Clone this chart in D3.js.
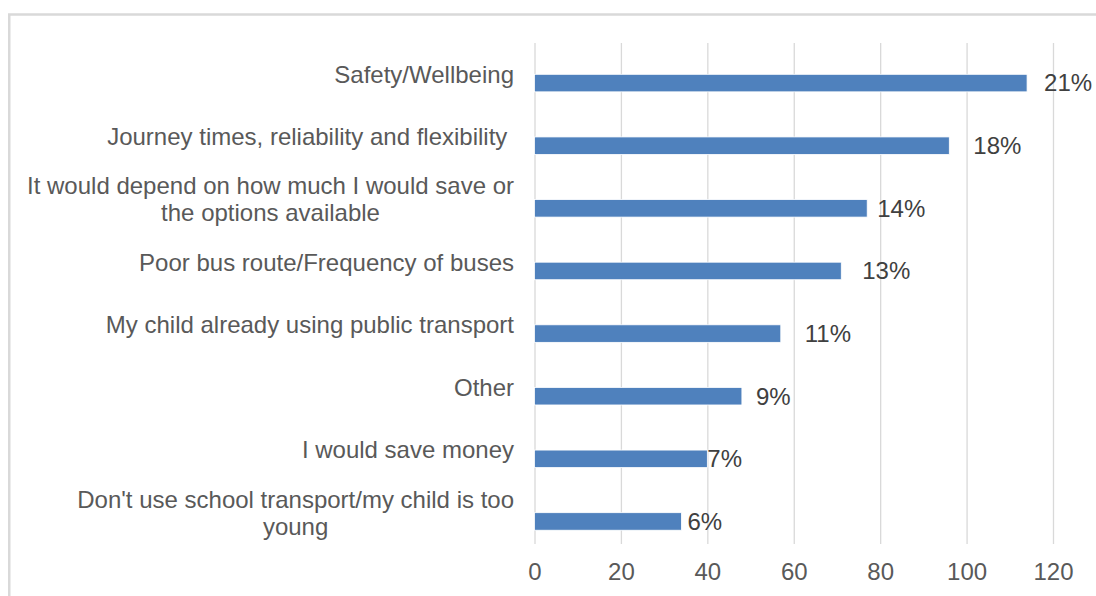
<!DOCTYPE html>
<html>
<head>
<meta charset="utf-8">
<script src="https://cdn.jsdelivr.net/npm/d3@7"></script>
<style>
  body { margin: 0; background: #fff; }
  svg { display: block; }
  text { font-family: "Liberation Sans", Arial, sans-serif; }
</style>
</head>
<body>
<svg id="chart" width="1096" height="596"></svg>
<script>
// Reasons given, one per bar (a "\n" marks a wrapped label line)
const categories = [
  "Safety/Wellbeing",
  "Journey times, reliability and flexibility ",
  "It would depend on how much I would save or\nthe options available",
  "Poor bus route/Frequency of buses",
  "My child already using public transport",
  "Other",
  "I would save money",
  "Don't use school transport/my child is too\nyoung"
];
// Number of responses for each reason
const values = [114, 96, 77, 71, 57, 48, 40, 34];
// Share of responses shown beside each bar
const valueLabels = ["21%", "18%", "14%", "13%", "11%", "9%", "7%", "6%"];
// Horizontal axis ticks
const xTicks = [0, 20, 40, 60, 80, 100, 120];

// Layout
const W = 1096, H = 596;
const plot = { left: 534.5, right: 1053, top: 43, bottom: 544 };
const labelRight = 514;           // right edge of the category labels
const fontSize = 24;
const lineHeight = 27;
const labelGap = [17, 24, 10, 21, 24, 14, 0, 6];   // space between bar end and its value label
const textGrey = "#595959";
const valueGrey = "#404040";
const gridGrey = "#d9d9d9";
const barBlue = "#4f81bd";

const svg = d3.select("#chart");

// Outer chart frame
svg.append("rect")
  .attr("x", 9.25).attr("y", 14.5)
  .attr("width", W + 20).attr("height", H + 20)
  .attr("fill", "none")
  .attr("stroke", gridGrey)
  .attr("stroke-width", 2.5);

const x = d3.scaleLinear().domain([0, 120]).range([plot.left, plot.right]);
const y = d3.scaleBand().domain(categories).range([plot.top, plot.bottom]).padding(0);

// Vertical gridlines and tick labels
const xAxis = d3.axisBottom(x)
  .tickValues(xTicks)
  .tickSizeInner(-(plot.bottom - plot.top))
  .tickSizeOuter(0);

const gx = svg.append("g")
  .attr("transform", `translate(0,${plot.bottom})`)
  .call(xAxis);
gx.select(".domain").remove();
gx.selectAll(".tick line")
  .attr("stroke", gridGrey)
  .attr("stroke-width", 1.3);
gx.selectAll(".tick text")
  .attr("y", 28)
  .attr("dy", "0.35em")
  .attr("fill", textGrey)
  .style("font-size", fontSize + "px")
  .style("font-family", '"Liberation Sans", Arial, sans-serif');

// Bars sit in the lower half of each category band
const bw = y.bandwidth();
const barOffset = bw * 0.5;
const barHeight = bw * 0.28;

svg.append("g")
  .selectAll("rect")
  .data(categories)
  .join("rect")
  .attr("x", x(0))
  .attr("y", d => y(d) + barOffset)
  .attr("width", (d, i) => x(values[i]) - x(0))
  .attr("height", barHeight)
  .attr("fill", barBlue)
  .attr("stroke", "#ffffff")
  .attr("stroke-width", 0.8);

// Value labels
svg.append("g")
  .selectAll("text")
  .data(categories)
  .join("text")
  .attr("x", (d, i) => x(values[i]) + labelGap[i])
  .attr("y", d => y(d) + barOffset + barHeight / 2)
  .attr("dy", "0.35em")
  .attr("fill", valueGrey)
  .style("font-size", fontSize + "px")
  .text((d, i) => valueLabels[i]);

// Category labels, right-aligned; wrapped labels are centred line by line
const catG = svg.append("g");
categories.forEach(c => {
  const lines = c.split("\n");
  const cy = y(c) + bw / 2;
  const t = catG.append("text")
    .attr("fill", textGrey)
    .style("font-size", fontSize + "px")
    .style("white-space", "pre");
  const spans = lines.map((line, j) =>
    t.append("tspan")
      .attr("y", cy + (j - (lines.length - 1) / 2) * lineHeight)
      .attr("dy", "0.35em")
      .text(line)
  );
  if (lines.length === 1) {
    spans[0].attr("x", labelRight).attr("text-anchor", "end");
  } else {
    const widths = spans.map(s => s.node().getComputedTextLength());
    const maxW = d3.max(widths);
    spans.forEach(s => s.attr("x", labelRight - maxW / 2).attr("text-anchor", "middle"));
  }
});
</script>
</body>
</html>
